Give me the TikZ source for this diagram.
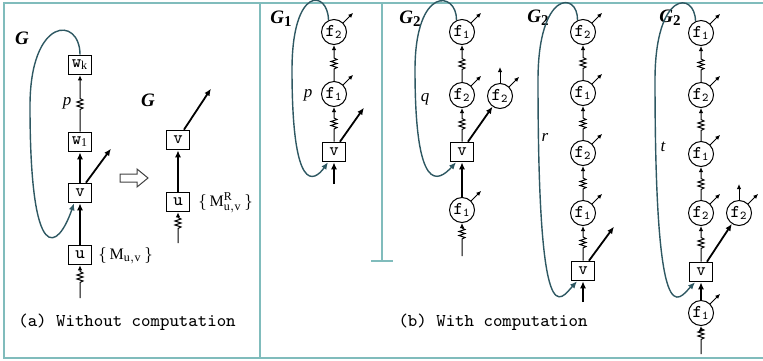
\documentclass[tikz,border=0pt]{standalone}
\usepackage{fontspec}
\setmainfont{Liberation Serif}
\usetikzlibrary{arrows.meta,calc}
\definecolor{VerdeAzulado}{RGB}{128,188,188}
\definecolor{PizarraOscuro}{RGB}{46,88,98}
\tikzset{
  opbox/.style={draw, line width=0.8pt, fill=white, minimum width=11.5pt,
    minimum height=9.5pt, inner sep=0pt, font=\fontsize{9}{9}\selectfont\ttfamily},
  fcirc/.style={circle, draw, line width=0.5pt, fill=white, minimum size=12.5pt,
    inner sep=0pt, font=\fontsize{9}{9}\selectfont\ttfamily},
  boldarr/.style={-{Latex[length=3.5pt, width=3pt]}, line width=0.9pt},
  thinarr/.style={-{Latex[length=2.5pt, width=2.2pt]}, line width=0.5pt},
  % resorte en medio del tramo, de abajo hacia arriba
  springarr/.style={thinarr, to path={-- ($(\tikztostart)!.5!(\tikztotarget)+(0,6)$)
    -- ++(3,-1.5) -- ++(-6,-2) -- ++(6,-2) -- ++(-6,-2) -- ++(6,-2) -- ++(-3,-1.5)
    -- (\tikztotarget) \tikztonodes}},
  loopback/.style={PizarraOscuro, line width=0.7pt, -{Latex[length=3.5pt, width=3pt]}},
  framelin/.style={VerdeAzulado, line width=1pt},
  graphlbl/.style={font=\fontsize{9.5}{9.5}\selectfont\bfseries\itshape},
  pathlbl/.style={font=\fontsize{8.5}{9}\selectfont\itshape},
  caplbl/.style={font=\fontsize{9}{9}\selectfont\ttfamily},
}
\newcommand{\gsub}[1]{\textit{G}\raisebox{-0.3ex}{\fontsize{7.5}{7.5}\selectfont\upshape #1}}

\begin{document}
\begin{tikzpicture}[x=0.5pt, y=-0.5pt, font=\fontsize{8}{9.6}\selectfont]
  \useasboundingbox (0,0) rectangle (763,360);

  % marco y separadores
  \draw[framelin] (763,3) -- (4,3) -- (4,358) -- (763,358);
  \draw[framelin] (260,3) -- (260,358);
  \draw[framelin] (382,3) -- (382,261);
  \draw[framelin] (371,261) -- (393,261);

  % ---- (a) sin computo ----
  \node[graphlbl] (gA) at (22,38) {G};
  \node[opbox] (wk) at (80,65) {w\textsubscript{\rmfamily k}};
  \node[opbox] (w1) at (80,142) {w\textsubscript{\rmfamily 1}};
  \node[opbox] (vA) at (80,193) {v};
  \node[opbox] (uA) at (80,255) {u};
  \coordinate (inA) at (80,298);
  \node[pathlbl] (pA) at (67,103) {p};
  \node[anchor=west, inner sep=0pt] (mA) at (98,256) {$\{\,\mathrm{M}_{\mathrm{u,v}}\,\}$};
  \draw[springarr] (inA) to (uA);
  \draw[boldarr] (uA) -- (vA);
  \draw[boldarr] (vA) -- (w1);
  \draw[springarr] (w1) to (wk);
  \draw[boldarr] (vA.60) -- ++(25,-34);
  \draw[loopback] (wk.north) .. controls (80,16) and (30,16) .. (30,106)
    .. controls (30,270) and (58,250) .. ([xshift=-3pt]vA.south);

  % flecha hueca entre los dos grafos
  \draw[black!75, line width=0.5pt, line join=miter] (120,174) -- (137,174) -- (137,169)
    -- (148,178) -- (137,187) -- (137,182) -- (120,182) -- cycle;

  \node[graphlbl] (gB) at (148,100) {G};
  \node[opbox] (vB) at (178,140) {v};
  \node[opbox] (uB) at (178,202) {u};
  \coordinate (inB) at (178,243);
  \node[anchor=west, inner sep=0pt] (mB) at (198,203) {$\{\,\mathrm{M}^{\mathrm{R}}_{\mathrm{u,v}}\,\}$};
  \draw[springarr] (inB) to (uB);
  \draw[boldarr] (uB) -- (vB);
  \draw[boldarr] (vB.60) -- ++(27,-41);

  \node[caplbl] (capA) at (127,322) {(a) Without computation};

  % ---- (b) con computo: G1 ----
  \node[graphlbl] (gG) at (281,19) {\gsub{1}};
  \node[fcirc] (f2G) at (334,32) {f\textsubscript{2}};
  \node[fcirc] (f1G) at (334,94) {f\textsubscript{1}};
  \node[opbox] (vG) at (334,152) {v};
  \coordinate (inG) at (334,184);
  \node[pathlbl] (pG) at (308,95) {p};
  \draw[boldarr] (inG) -- (vG);
  \draw[springarr] (vG) to (f1G);
  \draw[springarr] (f1G) to (f2G);
  \draw[boldarr] (vG.60) -- ++(24,-34);
  \foreach \f in {f1G,f2G} \draw[thinarr] (\f.45) -- ++(10,-10);
  \draw[loopback] (f2G.115) .. controls (328,-10) and (292,-15) .. (292,70)
    .. controls (292,195) and (314,182) .. ([xshift=-3pt]vG.south);

  % ---- G2 con q ----
  \node[graphlbl] (gQ) at (410,19) {\gsub{2}};
  \node[fcirc] (f1Q) at (462,32) {f\textsubscript{1}};
  \node[fcirc] (f2Q) at (462,95) {f\textsubscript{2}};
  \node[fcirc] (f2Qr) at (500,96) {f\textsubscript{2}};
  \node[opbox] (vQ) at (462,152) {v};
  \node[fcirc] (f1Qb) at (462,210) {f\textsubscript{1}};
  \coordinate (inQ) at (462,256);
  \node[pathlbl] (qQ) at (425,99) {q};
  \draw[springarr] (inQ) to (f1Qb);
  \draw[boldarr] (f1Qb) -- (vQ);
  \draw[springarr] (vQ) to (f2Q);
  \draw[springarr] (f2Q) to (f1Q);
  \draw[boldarr] (vQ.60) -- (f2Qr);
  \draw[thinarr] (f2Qr.north) -- ++(0,-16);
  \foreach \f in {f1Q,f2Q,f2Qr,f1Qb} \draw[thinarr] (\f.45) -- ++(10,-10);
  \draw[loopback] (f1Q.115) .. controls (457,-9) and (415,-15) .. (415,70)
    .. controls (415,195) and (438,182) .. ([xshift=-3pt]vQ.south);

  % ---- G2 con r ----
  \node[graphlbl] (gR) at (538,18) {\gsub{2}};
  \node[fcirc] (f2R) at (583,32) {f\textsubscript{2}};
  \node[fcirc] (f1R) at (583,93) {f\textsubscript{1}};
  \node[fcirc] (f2Rb) at (583,153) {f\textsubscript{2}};
  \node[fcirc] (f1Rb) at (583,213) {f\textsubscript{1}};
  \node[opbox] (vR) at (583,271) {v};
  \coordinate (inR) at (583,302);
  \node[pathlbl] (rR) at (545,137) {r};
  \draw[boldarr] (inR) -- (vR);
  \draw[springarr] (vR) to (f1Rb);
  \draw[springarr] (f1Rb) to (f2Rb);
  \draw[springarr] (f2Rb) to (f1R);
  \draw[springarr] (f1R) to (f2R);
  \draw[boldarr] (vR.60) -- ++(25,-34);
  \foreach \f in {f2R,f1R,f2Rb,f1Rb} \draw[thinarr] (\f.45) -- ++(10,-10);
  \draw[loopback] (f2R.115) .. controls (578,-9) and (538,-10) .. (538,80)
    .. controls (538,340) and (560,300) .. ([xshift=-3pt]vR.south);

  % ---- G2 con t ----
  \node[graphlbl] (gT) at (670,18) {\gsub{2}};
  \node[fcirc] (f1T) at (701,33) {f\textsubscript{1}};
  \node[fcirc] (f2T) at (701,95) {f\textsubscript{2}};
  \node[fcirc] (f1Tb) at (701,154) {f\textsubscript{1}};
  \node[fcirc] (f2Tb) at (701,213) {f\textsubscript{2}};
  \node[fcirc] (f2Tr) at (739,213) {f\textsubscript{2}};
  \node[opbox] (vT) at (701,272) {v};
  \node[fcirc] (f1Tc) at (701,313) {f\textsubscript{1}};
  \coordinate (inT) at (701,354);
  \node[pathlbl] (tT) at (663,147) {t};
  \draw[springarr] (inT) to (f1Tc);
  \draw[boldarr] (f1Tc) -- (vT);
  \draw[springarr] (vT) to (f2Tb);
  \draw[springarr] (f2Tb) to (f1Tb);
  \draw[springarr] (f1Tb) to (f2T);
  \draw[springarr] (f2T) to (f1T);
  \draw[boldarr] (vT.60) -- (f2Tr);
  \draw[thinarr] (f2Tr.north) -- ++(0,-16);
  \foreach \f in {f1T,f2T,f1Tb,f2Tb,f2Tr,f1Tc} \draw[thinarr] (\f.45) -- ++(10,-10);
  \draw[loopback] (f1T.115) .. controls (695,-9) and (655,-10) .. (655,80)
    .. controls (655,340) and (678,300) .. ([xshift=-3pt]vT.south);

  \node[caplbl] (capB) at (493,322) {(b) With computation};
\end{tikzpicture}
\end{document}
